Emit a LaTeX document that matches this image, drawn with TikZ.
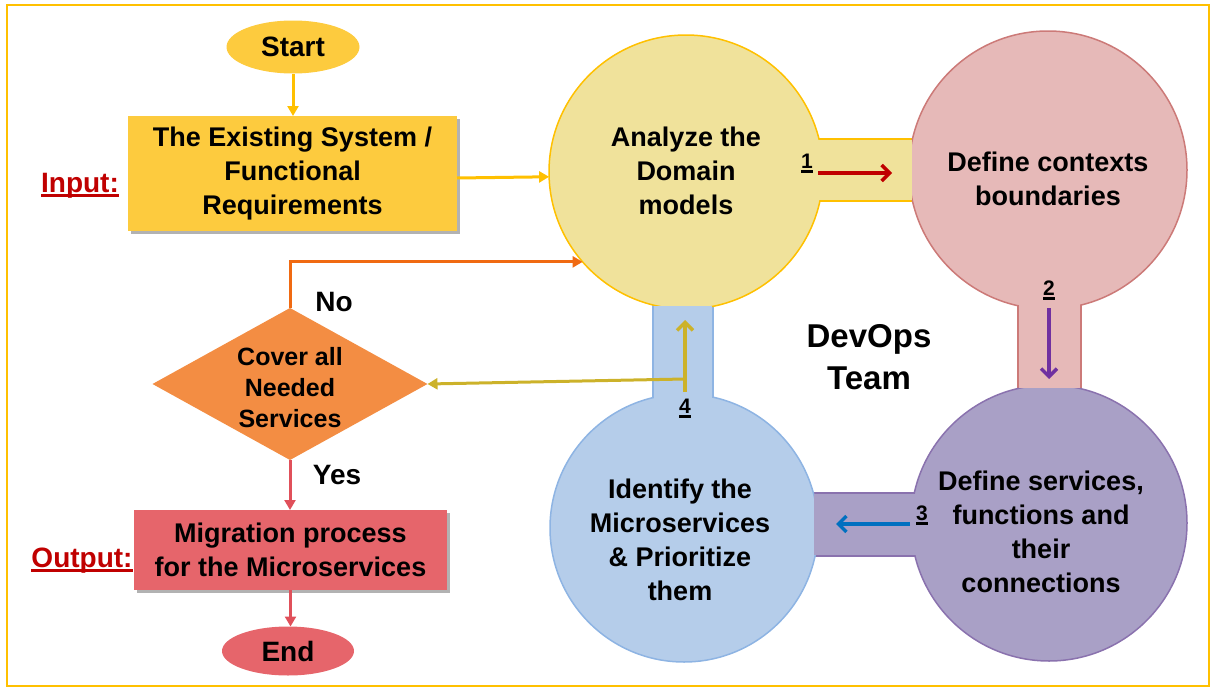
\documentclass[tikz,border=0pt]{standalone}
\usepackage{fontspec}
\setmainfont{Liberation Sans}
\usetikzlibrary{shapes.geometric,arrows.meta,shadows}

\definecolor{frameC}{HTML}{FFC000}
\definecolor{startC}{HTML}{FDCB3E}
\definecolor{diaC}{HTML}{F38D43}
\definecolor{outC}{HTML}{E6656B}
\definecolor{labC}{HTML}{C00000}
\definecolor{noC}{HTML}{F06A12}
\definecolor{yesC}{HTML}{E0505A}
\definecolor{backC}{HTML}{CCB22A}
\definecolor{yFill}{HTML}{F0E29B}
\definecolor{yLine}{HTML}{FFC000}
\definecolor{pFill}{HTML}{E6B9B8}
\definecolor{pLine}{HTML}{CC7A78}
\definecolor{vFill}{HTML}{A9A0C6}
\definecolor{vLine}{HTML}{8A72AE}
\definecolor{bFill}{HTML}{B5CDEA}
\definecolor{bLine}{HTML}{8EB4E3}
\definecolor{oneC}{HTML}{C00000}
\definecolor{twoC}{HTML}{7030A0}
\definecolor{threeC}{HTML}{0070C0}

% thick underline a little below the baseline
\newcommand\ulword[2][2.2pt]{\setbox0=\hbox{#2}\leavevmode\rlap{\rule[-4.5pt]{\wd0}{#1}}\box0}

\begin{document}
\begin{tikzpicture}[x=1pt,y=-1pt,
  every node/.style={inner sep=0pt, outer sep=0pt},
  big/.style={font=\fontsize{27}{34}\selectfont\bfseries, align=center},
  mid/.style={font=\fontsize{25}{31}\selectfont\bfseries, align=center},
  term/.style={font=\fontsize{28}{32}\selectfont\bfseries},
  num/.style={font=\fontsize{21}{24}\selectfont\bfseries, anchor=base},
  flow/.style={line width=3pt, -{Triangle[length=10pt,width=11pt]}},
  numarrow/.style={line width=3.5pt, -{Straight Barb[length=8pt,width=16pt,line width=3.5pt]}},
  rim/.style={line width=1.5pt},
  boxshadow/.style={drop shadow={shadow xshift=3pt,shadow yshift=-3pt,opacity=0.3,fill=black}}
]
\useasboundingbox (0,0) rectangle (1211,688);

% outer frame
\draw[frameC, line width=2.5pt] (7,5) rectangle (1209,686);

% connecting bars of the cycle (drawn under the circles)
\path[fill=yFill, draw=yLine, rim] (686,139) rectangle (1048,201);
\path[fill=pFill, draw=pLine, rim] (1018,170) rectangle (1081,523);
\path[fill=vFill, draw=vLine, rim] (684,493) rectangle (1049,556);
\path[fill=bFill, draw=bLine, rim] (653,172) rectangle (713,528);

% the four process circles
\path[fill=yFill, draw=yLine, rim] (686,172) circle[radius=137];
\path[fill=pFill, draw=pLine, rim] (1048,170) circle[radius=139];
\path[fill=vFill, draw=vLine, rim] (1049,523) circle[radius=138];
\path[fill=bFill, draw=bLine, rim] (684,528) circle[radius=134];

% merge each circle with its outgoing bar
\fill[yFill] (806,139.75) rectangle (912,200.25);
\fill[pFill] (1018.75,290) rectangle (1080.25,388);
\fill[vFill] (929,493.75) rectangle (814,555.25);
\fill[bFill] (653.75,413) rectangle (712.25,306);

% named circle nodes and their texts
\node[circle, minimum size=274] (analyze) at (686,172) {};
\node[circle, minimum size=278] (contexts) at (1048,170) {};
\node[circle, minimum size=276] (services) at (1049,523) {};
\node[circle, minimum size=268] (identify) at (684,528) {};

\node[big] (tAnalyze) at (686,171) {Analyze the\\Domain\\models};
\node[big] (tContexts) at (1048,179) {Define contexts\\boundaries};
\node[big] (tServices) at (1041,531.5) {Define services,\\functions and\\their\\connections};
\node[big] (tIdentify) at (680,540) {Identify the\\Microservices\\\& Prioritize\\them};

\node[font=\fontsize{33}{42}\selectfont\bfseries, align=center] (devops) at (869,357) {DevOps\\Team};

% step numbers and arrows inside the bars
\coordinate (s1a) at (818,173); \coordinate (s1b) at (892,173);
\coordinate (s2a) at (1049,308); \coordinate (s2b) at (1049,379);
\coordinate (s3a) at (910,524); \coordinate (s3b) at (836,524);
\coordinate (s4a) at (685,392); \coordinate (s4b) at (685,320);
\coordinate (s4j) at (685,379);

\draw[numarrow, oneC] (s1a) -- (s1b);
\draw[numarrow, twoC] (s2a) -- (s2b);
\draw[numarrow, threeC] (s3a) -- (s3b);
\draw[numarrow, backC] (s4a) -- (s4b);

\node[num] (n1) at (807,168) {\ulword{1}};
\node[num] (n2) at (1049,295) {\ulword{2}};
\node[num] (n3) at (922,520) {\ulword{3}};
\node[num] (n4) at (685,413) {\ulword{4}};

% left flowchart
\node[ellipse, fill=startC, minimum width=133, minimum height=53, term] (start) at (293,47) {Start};
\node[rectangle, fill=startC, minimum width=329, minimum height=115, big, boxshadow] (input) at (292.5,173.5)
  {The Existing System /\\Functional\\Requirements};
\node[diamond, fill=diaC, minimum width=275, minimum height=152] (dia) at (290,384) {};
\node[mid] (tDia) at (290,388) {Cover all\\Needed\\Services};
\node[rectangle, fill=outC, minimum width=313, minimum height=80, big, boxshadow] (output) at (290.5,550)
  {Migration process\\for the Microservices};
\node[ellipse, fill=outC, minimum width=132, minimum height=49, term] (end) at (288,651) {End};

\node[term, text=labC, anchor=base] (lin) at (80,192) {\ulword{Input:}};
\node[term, text=labC, anchor=base] (lout) at (82,567) {\ulword{Output:}};
\node[term] (lno) at (334,302) {No};
\node[term] (lyes) at (337,475) {Yes};

% flowchart connectors
\draw[flow, frameC] (start.south) -- (start.south |- input.north);
\draw[flow, frameC] ([yshift=-4.5pt]input.east) -- (analyze.182.5);
\draw[flow, noC] (dia.north) |- (analyze.221.6);
\draw[flow, backC] (s4j) -- (dia.east);
\draw[flow, yesC] (dia.south) -- (dia.south |- output.north);
\draw[flow, yesC] (output.south) -- (output.south |- end.north);
\end{tikzpicture}
\end{document}
